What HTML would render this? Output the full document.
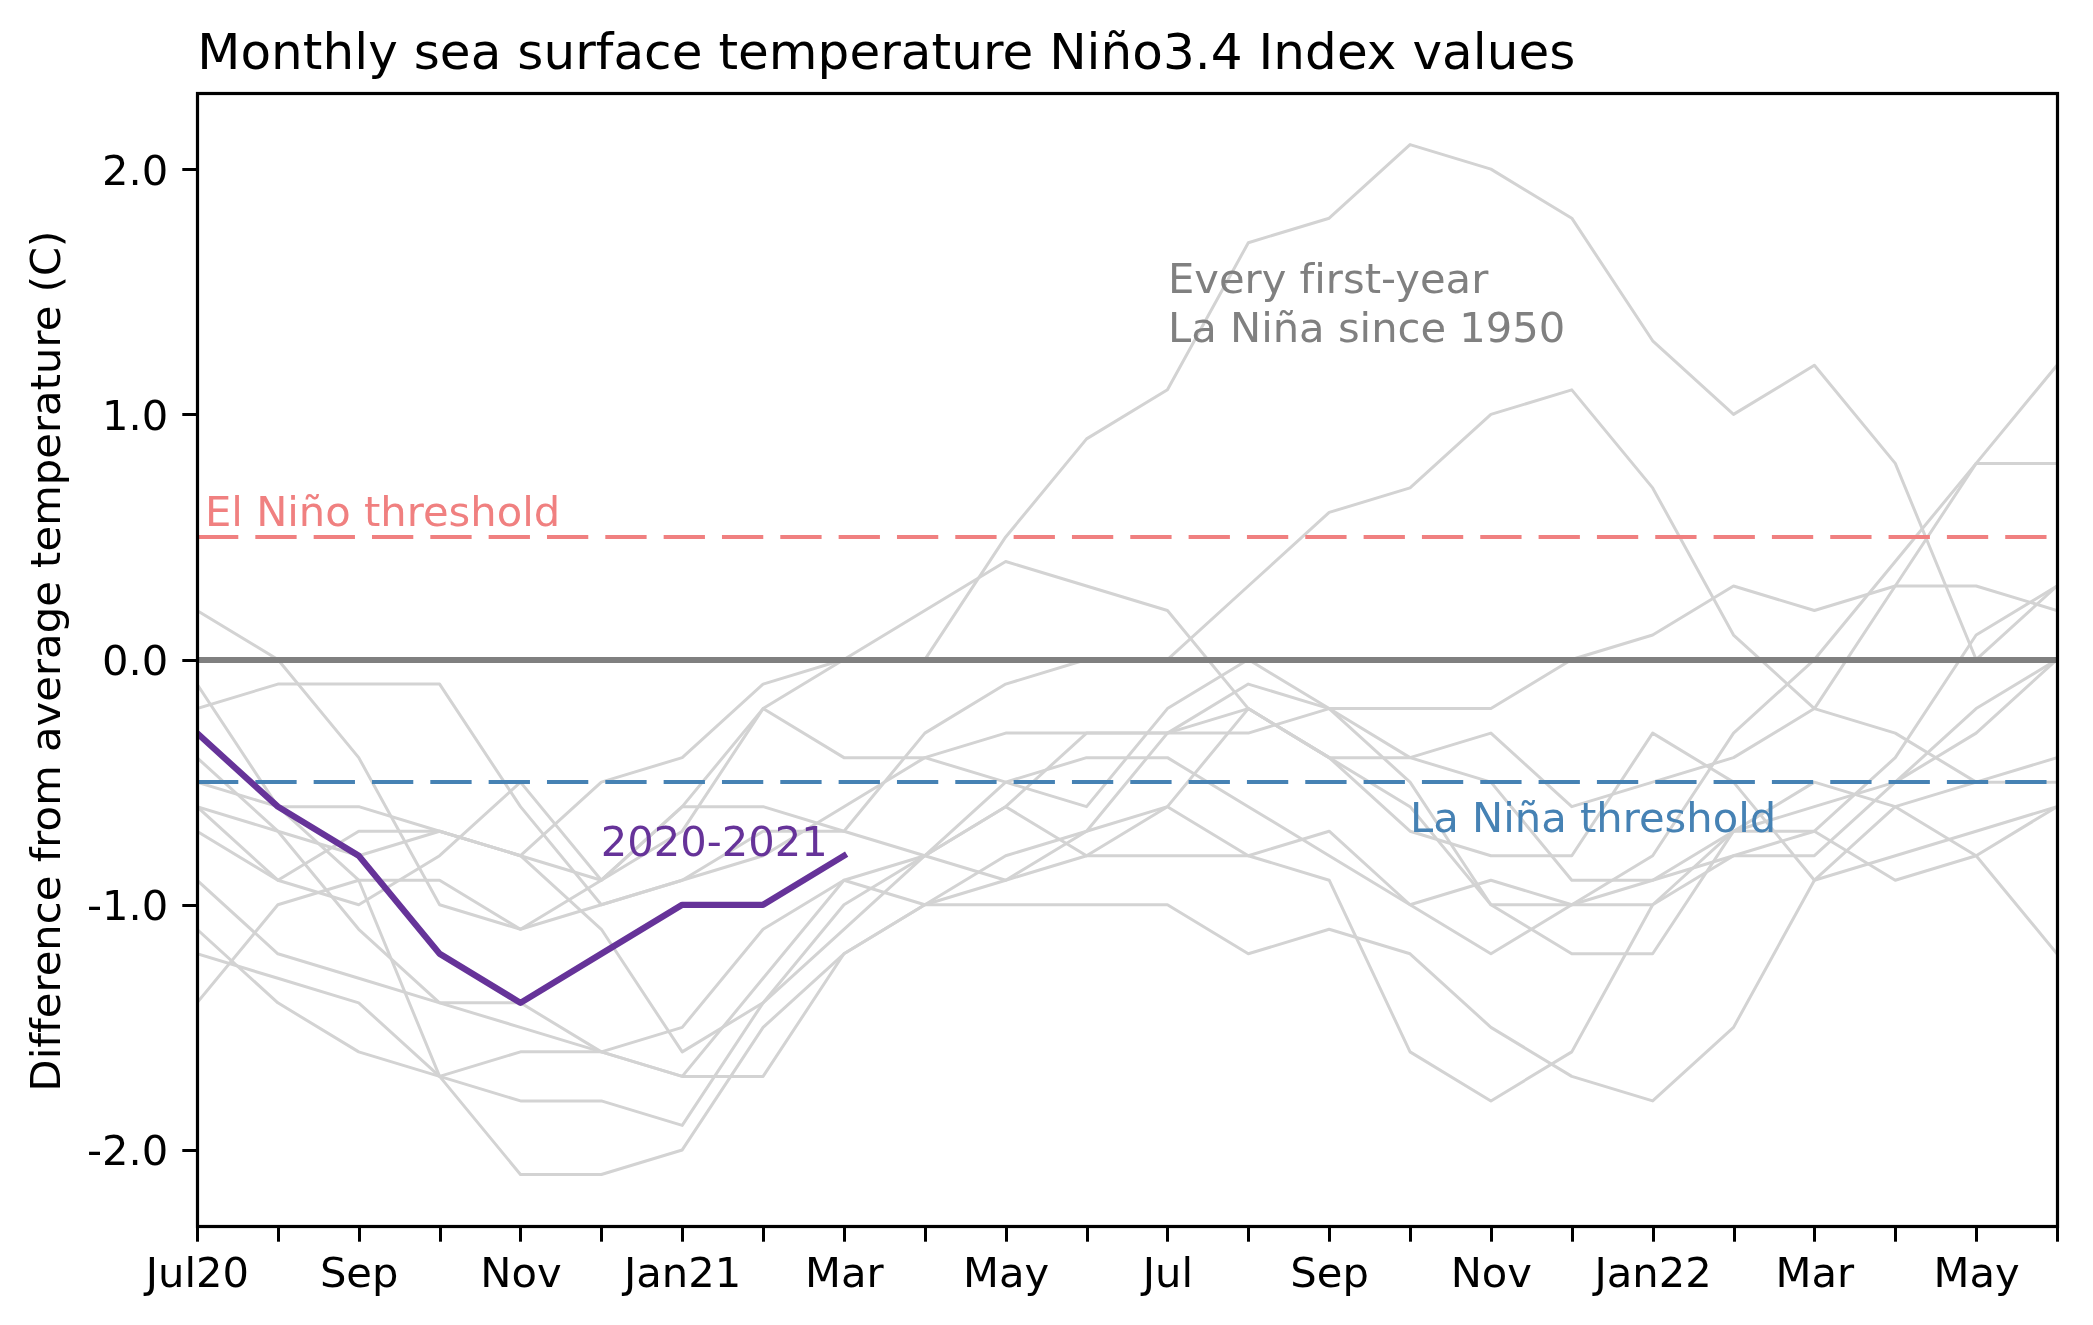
<!DOCTYPE html>
<html><head><meta charset="utf-8"><title>Monthly sea surface temperature Niño3.4 Index values</title>
<style>
html,body{margin:0;padding:0;background:#fff;}
body{width:2093px;height:1325px;overflow:hidden;}
svg{display:block;will-change:transform;}
text{font-family:"DejaVu Sans","Liberation Sans",sans-serif;font-variant-ligatures:none;font-feature-settings:"liga" 0,"clig" 0;}
</style></head>
<body>
<svg width="2093" height="1325" viewBox="0 0 2093 1325">
<defs><clipPath id="ax"><rect x="197.00" y="93.10" width="1860.01" height="1132.90"/></clipPath></defs>
<rect x="0" y="0" width="2093" height="1325" fill="#ffffff"/>
<g clip-path="url(#ax)">
<g fill="none" stroke="#d3d3d3" stroke-width="3.0" stroke-linejoin="round" stroke-linecap="round">
<polyline points="197.00,610.51 277.87,659.55 358.74,757.63 439.61,904.75 520.48,929.27 601.35,904.75 682.22,880.23 763.09,855.71 843.96,806.67 924.83,757.63 1005.70,733.11 1086.57,733.11 1167.44,733.11 1248.31,733.11 1329.18,708.59 1410.05,708.59 1490.92,708.59 1571.79,659.55 1652.66,635.03 1733.53,585.99 1814.40,610.51 1895.27,585.99 1976.14,585.99 2057.01,610.51"/>
<polyline points="197.00,684.07 277.87,806.67 358.74,880.23 439.61,880.23 520.48,929.27 601.35,880.23 682.22,831.19 763.09,708.59 843.96,659.55 924.83,610.51 1005.70,561.47 1086.57,585.99 1167.44,610.51 1248.31,708.59 1329.18,757.63 1410.05,806.67 1490.92,904.75 1571.79,953.79 1652.66,953.79 1733.53,831.19 1814.40,782.15 1895.27,806.67 1976.14,855.71 2057.01,953.79"/>
<polyline points="197.00,708.59 277.87,684.07 358.74,684.07 439.61,684.07 520.48,806.67 601.35,904.75 682.22,880.23 763.09,831.19 843.96,831.19 924.83,855.71 1005.70,880.23 1086.57,855.71 1167.44,855.71 1248.31,855.71 1329.18,880.23 1410.05,1051.87 1490.92,1100.91 1571.79,1051.87 1652.66,904.75 1733.53,831.19 1814.40,806.67 1895.27,782.15 1976.14,733.11 2057.01,659.55"/>
<polyline points="197.00,757.63 277.87,831.19 358.74,929.27 439.61,1002.83 520.48,1027.35 601.35,1051.87 682.22,1076.39 763.09,1076.39 843.96,953.79 924.83,904.75 1005.70,855.71 1086.57,831.19 1167.44,806.67 1248.31,708.59 1329.18,757.63 1410.05,831.19 1490.92,855.71 1571.79,855.71 1652.66,733.11 1733.53,782.15 1814.40,880.23 1895.27,855.71 1976.14,831.19 2057.01,806.67"/>
<polyline points="197.00,782.15 277.87,806.67 358.74,806.67 439.61,831.19 520.48,855.71 601.35,880.23 682.22,806.67 763.09,708.59 843.96,757.63 924.83,757.63 1005.70,782.15 1086.57,806.67 1167.44,708.59 1248.31,659.55 1329.18,708.59 1410.05,757.63 1490.92,782.15 1571.79,880.23 1652.66,880.23 1733.53,855.71 1814.40,831.19 1895.27,757.63 1976.14,635.03 2057.01,585.99"/>
<polyline points="197.00,806.67 277.87,831.19 358.74,855.71 439.61,831.19 520.48,855.71 601.35,929.27 682.22,1051.87 763.09,1002.83 843.96,929.27 924.83,855.71 1005.70,782.15 1086.57,757.63 1167.44,757.63 1248.31,806.67 1329.18,855.71 1410.05,904.75 1490.92,953.79 1571.79,904.75 1652.66,855.71 1733.53,733.11 1814.40,659.55 1895.27,561.47 1976.14,463.39 2057.01,365.31"/>
<polyline points="197.00,806.67 277.87,880.23 358.74,904.75 439.61,855.71 520.48,782.15 601.35,880.23 682.22,806.67 763.09,806.67 843.96,831.19 924.83,733.11 1005.70,684.07 1086.57,659.55 1167.44,659.55 1248.31,585.99 1329.18,512.43 1410.05,487.91 1490.92,414.35 1571.79,389.83 1652.66,487.91 1733.53,635.03 1814.40,708.59 1895.27,733.11 1976.14,782.15 2057.01,782.15"/>
<polyline points="197.00,831.19 277.87,880.23 358.74,831.19 439.61,831.19 520.48,855.71 601.35,782.15 682.22,757.63 763.09,684.07 843.96,659.55 924.83,659.55 1005.70,536.95 1086.57,438.87 1167.44,389.83 1248.31,242.71 1329.18,218.19 1410.05,144.63 1490.92,169.15 1571.79,218.19 1652.66,340.79 1733.53,414.35 1814.40,365.31 1895.27,463.39 1976.14,659.55 2057.01,585.99"/>
<polyline points="197.00,880.23 277.87,953.79 358.74,978.31 439.61,1002.83 520.48,1002.83 601.35,1051.87 682.22,1076.39 763.09,978.31 843.96,880.23 924.83,855.71 1005.70,806.67 1086.57,733.11 1167.44,733.11 1248.31,708.59 1329.18,757.63 1410.05,757.63 1490.92,733.11 1571.79,806.67 1652.66,782.15 1733.53,757.63 1814.40,708.59 1895.27,585.99 1976.14,463.39 2057.01,463.39"/>
<polyline points="197.00,929.27 277.87,1002.83 358.74,1051.87 439.61,1076.39 520.48,1100.91 601.35,1100.91 682.22,1125.43 763.09,1002.83 843.96,904.75 924.83,855.71 1005.70,806.67 1086.57,855.71 1167.44,806.67 1248.31,855.71 1329.18,831.19 1410.05,904.75 1490.92,880.23 1571.79,904.75 1652.66,904.75 1733.53,855.71 1814.40,855.71 1895.27,782.15 1976.14,708.59 2057.01,659.55"/>
<polyline points="197.00,953.79 277.87,978.31 358.74,1002.83 439.61,1076.39 520.48,1174.47 601.35,1174.47 682.22,1149.95 763.09,1027.35 843.96,953.79 924.83,904.75 1005.70,880.23 1086.57,831.19 1167.44,733.11 1248.31,684.07 1329.18,708.59 1410.05,782.15 1490.92,904.75 1571.79,904.75 1652.66,880.23 1733.53,831.19 1814.40,831.19 1895.27,880.23 1976.14,855.71 2057.01,806.67"/>
<polyline points="197.00,1002.83 277.87,904.75 358.74,880.23 439.61,1076.39 520.48,1051.87 601.35,1051.87 682.22,1027.35 763.09,929.27 843.96,880.23 924.83,904.75 1005.70,904.75 1086.57,904.75 1167.44,904.75 1248.31,953.79 1329.18,929.27 1410.05,953.79 1490.92,1027.35 1571.79,1076.39 1652.66,1100.91 1733.53,1027.35 1814.40,880.23 1895.27,806.67 1976.14,782.15 2057.01,757.63"/>
</g>
<line x1="197.00" y1="659.93" x2="2057.01" y2="659.93" stroke="#808080" stroke-width="6"/>
<line x1="197.00" y1="536.9" x2="2057.01" y2="536.9" stroke="#f08080" stroke-width="4" stroke-dasharray="41.3 17.03"/>
<line x1="197.00" y1="781.9" x2="2057.01" y2="781.9" stroke="#4682b4" stroke-width="4" stroke-dasharray="41.3 17.03"/>
<polyline points="197.00,733.11 277.87,806.67 358.74,855.71 439.61,953.79 520.48,1002.83 601.35,953.79 682.22,904.75 763.09,904.75 843.96,855.71" fill="none" stroke="#663399" stroke-width="6.25" stroke-linejoin="round" stroke-linecap="square"/>
</g>
<g font-size="41.67">
<text x="205.0" y="526.3" fill="#f08080">El Niño threshold</text>
<text x="1410.1" y="831.9" fill="#4682b4">La Niña threshold</text>
<text x="600.8" y="855.9" fill="#663399">2020-2021</text>
<text x="1168.0" y="293.2" fill="#808080">Every first-year</text>
<text x="1168.0" y="341.8" fill="#808080">La Niña since 1950</text>
</g>
<rect x="197.50" y="93.50" width="1860.00" height="1133.00" fill="none" stroke="#000" stroke-width="3.2" stroke-linejoin="miter"/>
<g stroke="#000" stroke-width="3.0">
<line x1="197.50" y1="1226.50" x2="197.50" y2="1241.70"/>
<line x1="278.50" y1="1226.50" x2="278.50" y2="1241.70"/>
<line x1="359.50" y1="1226.50" x2="359.50" y2="1241.70"/>
<line x1="440.50" y1="1226.50" x2="440.50" y2="1241.70"/>
<line x1="520.50" y1="1226.50" x2="520.50" y2="1241.70"/>
<line x1="601.50" y1="1226.50" x2="601.50" y2="1241.70"/>
<line x1="682.50" y1="1226.50" x2="682.50" y2="1241.70"/>
<line x1="763.50" y1="1226.50" x2="763.50" y2="1241.70"/>
<line x1="844.50" y1="1226.50" x2="844.50" y2="1241.70"/>
<line x1="925.50" y1="1226.50" x2="925.50" y2="1241.70"/>
<line x1="1006.50" y1="1226.50" x2="1006.50" y2="1241.70"/>
<line x1="1087.50" y1="1226.50" x2="1087.50" y2="1241.70"/>
<line x1="1167.50" y1="1226.50" x2="1167.50" y2="1241.70"/>
<line x1="1248.50" y1="1226.50" x2="1248.50" y2="1241.70"/>
<line x1="1329.50" y1="1226.50" x2="1329.50" y2="1241.70"/>
<line x1="1410.50" y1="1226.50" x2="1410.50" y2="1241.70"/>
<line x1="1491.50" y1="1226.50" x2="1491.50" y2="1241.70"/>
<line x1="1572.50" y1="1226.50" x2="1572.50" y2="1241.70"/>
<line x1="1653.50" y1="1226.50" x2="1653.50" y2="1241.70"/>
<line x1="1734.50" y1="1226.50" x2="1734.50" y2="1241.70"/>
<line x1="1814.50" y1="1226.50" x2="1814.50" y2="1241.70"/>
<line x1="1895.50" y1="1226.50" x2="1895.50" y2="1241.70"/>
<line x1="1976.50" y1="1226.50" x2="1976.50" y2="1241.70"/>
<line x1="2057.50" y1="1226.50" x2="2057.50" y2="1241.70"/>
<line x1="182.30" y1="169.50" x2="197.50" y2="169.50"/>
<line x1="182.30" y1="414.50" x2="197.50" y2="414.50"/>
<line x1="182.30" y1="660.50" x2="197.50" y2="660.50"/>
<line x1="182.30" y1="905.50" x2="197.50" y2="905.50"/>
<line x1="182.30" y1="1150.50" x2="197.50" y2="1150.50"/>
</g>
<g font-size="41.67" fill="#000">
<text x="197.45" y="1287.3" text-anchor="middle">Jul20</text>
<text x="359.19" y="1287.3" text-anchor="middle">Sep</text>
<text x="520.93" y="1287.3" text-anchor="middle">Nov</text>
<text x="682.67" y="1287.3" text-anchor="middle">Jan21</text>
<text x="844.41" y="1287.3" text-anchor="middle">Mar</text>
<text x="1006.15" y="1287.3" text-anchor="middle">May</text>
<text x="1167.89" y="1287.3" text-anchor="middle">Jul</text>
<text x="1329.63" y="1287.3" text-anchor="middle">Sep</text>
<text x="1491.37" y="1287.3" text-anchor="middle">Nov</text>
<text x="1653.11" y="1287.3" text-anchor="middle">Jan22</text>
<text x="1814.85" y="1287.3" text-anchor="middle">Mar</text>
<text x="1976.59" y="1287.3" text-anchor="middle">May</text>
<text x="168.3" y="184.55" text-anchor="end">2.0</text>
<text x="168.3" y="429.75" text-anchor="end">1.0</text>
<text x="168.3" y="674.95" text-anchor="end">0.0</text>
<text x="168.3" y="920.15" text-anchor="end">-1.0</text>
<text x="168.3" y="1165.35" text-anchor="end">-2.0</text>
<text transform="translate(60,661.0) rotate(-90)" x="0" y="0" text-anchor="middle" textLength="860.75" lengthAdjust="spacing">Difference from average temperature (C)</text>
</g>
<text x="197.25" y="68.5" font-size="50" fill="#000" textLength="1378.05" lengthAdjust="spacing">Monthly sea surface temperature Niño3.4 Index values</text>
</svg>
</body></html>
